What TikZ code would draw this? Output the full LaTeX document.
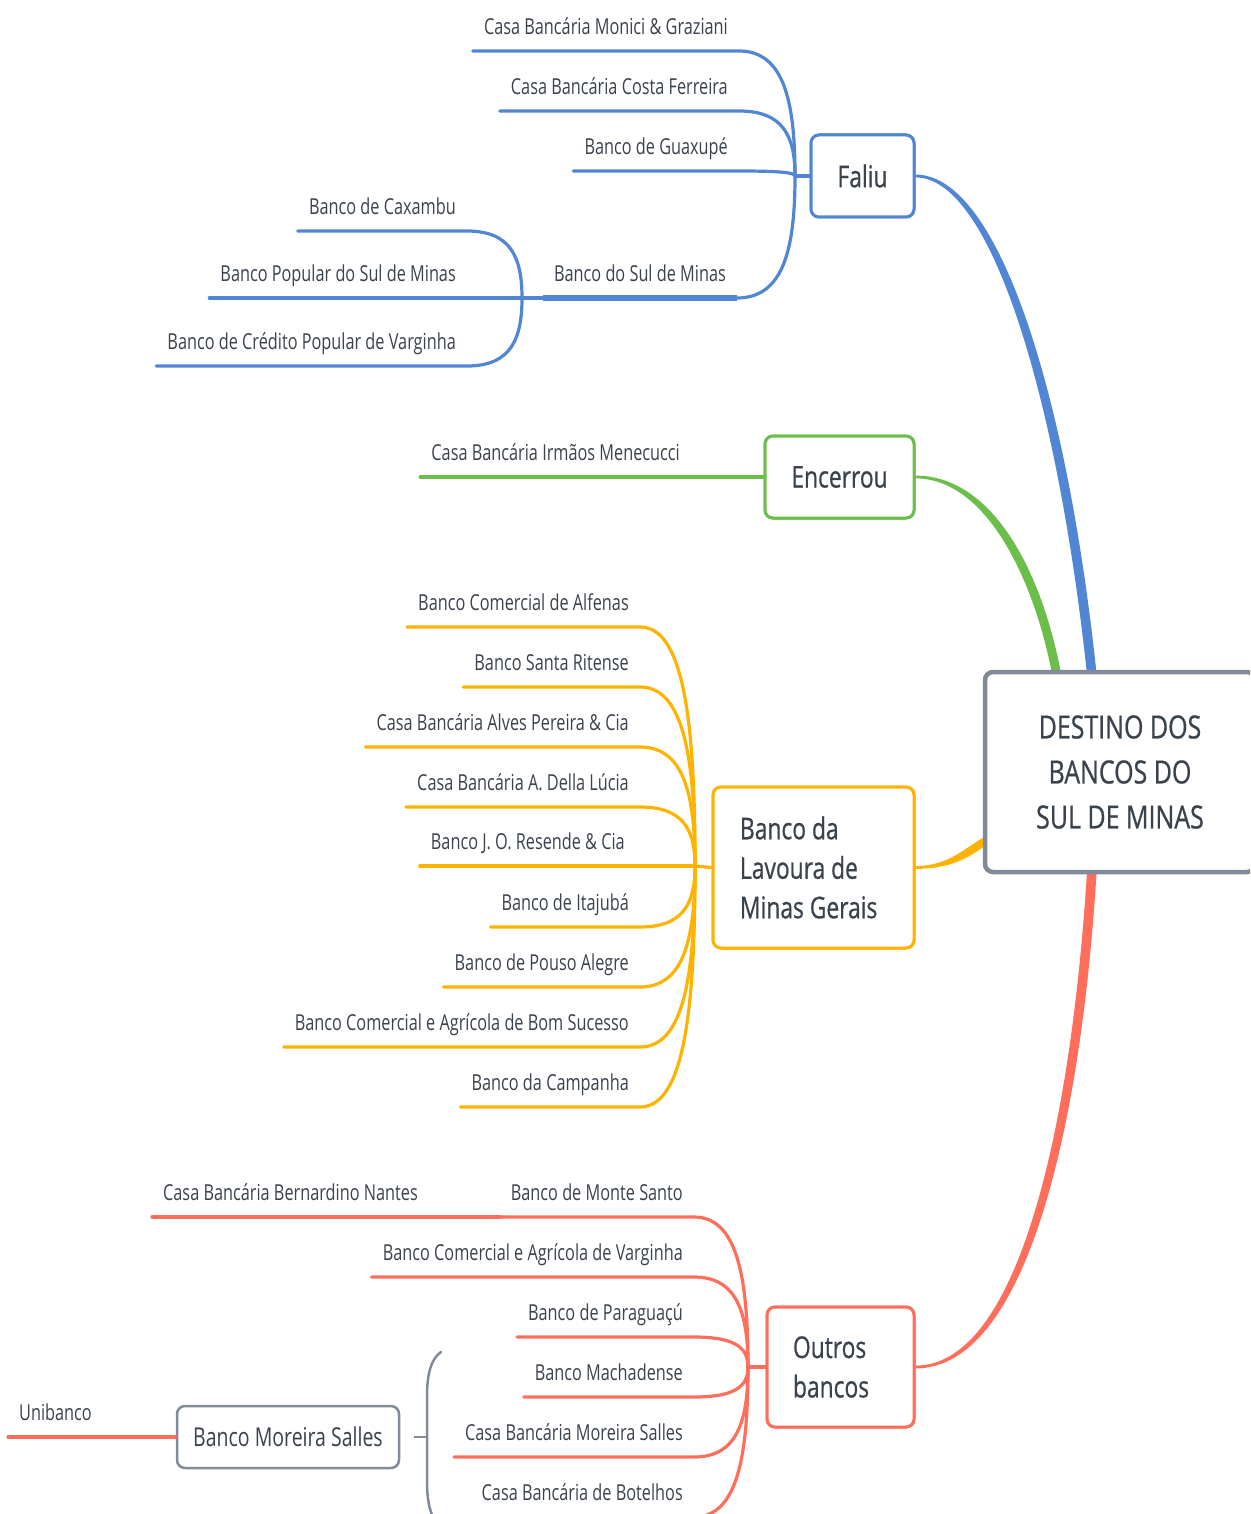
\documentclass[tikz,border=0pt]{standalone}
\usepackage{fontspec}
\setmainfont{Open Sans}[FakeStretch=0.74]
\newfontfamily\bigf{Open Sans}[FakeStretch=0.76, FakeBold=0.6]
\newfontfamily\rootf{Open Sans}[FakeStretch=0.78, FakeBold=0.6]
\newfontfamily\msf{Open Sans}[FakeStretch=0.75]
\usetikzlibrary{calc}
\definecolor{cBlue}{RGB}{80,134,212}
\definecolor{cGreen}{RGB}{108,190,75}
\definecolor{cOrange}{RGB}{255,178,0}
\definecolor{cRed}{RGB}{255,110,90}
\definecolor{cGray}{RGB}{128,138,153}
\definecolor{txt}{RGB}{58,66,76}
\tikzset{
  lbl/.style={font=\fontsize{22}{26}\selectfont, text=txt, inner xsep=11pt, inner ysep=10pt,
    text height=17pt, text depth=6pt, anchor=south east},
  box/.style={draw=#1, line width=3pt, rounded corners=8pt, fill=white, text=txt,
    font=\bigf\fontsize{30}{39.5}\selectfont, inner sep=0pt, align=left},
  lavbox/.style={box=cOrange, inner xsep=27pt, text width=147pt, minimum height=161pt, align=flush left},
  outbox/.style={box=cRed, inner xsep=26pt, text width=95pt, minimum height=120pt, align=flush left},
  branch/.style={to path={.. controls ($(\tikztostart)!0.8!(\tikztostart -| \tikztotarget)$)
    and ($(\tikztotarget)!0.6!(\tikztotarget |- \tikztostart)$) .. (\tikztotarget)}},
  ln/.style={line width=3.2pt, draw=#1, line cap=round},
}
\begin{document}
\begin{tikzpicture}[x=1pt,y=-1pt]
\useasboundingbox (0,0) rectangle (1250,1514);
\clip (0,0) rectangle (1250,1514);
% junctions
\coordinate (j1) at (795,176);
\coordinate (j2) at (522,298);
\coordinate (j3) at (695,866);
\coordinate (j4) at (748,1367);
\coordinate (cb) at (1092,676);
\coordinate (cg) at (1057,676);
\coordinate (co) at (990,838);
\coordinate (cr) at (1092,868);

% topic boxes (positions)
\node[box=cBlue, minimum width=103pt, minimum height=82pt] (faliu) at (862.5,176) {Faliu};
\node[box=cGreen, minimum width=149pt, minimum height=82pt] (enc) at (839.5,477) {Encerrou};
\node[lavbox] (lav) at (813.5,867.5) {Banco da\\Lavoura de\\Minas Gerais};
\node[outbox] (out) at (840.5,1367) {Outros\\bancos};

% main tapered branches
\fill[cBlue] ([yshift=1.4pt]faliu.east) .. controls (1000,174.6) and (1068,400) .. ([xshift=4.8pt]cb)
  -- ([xshift=-4.8pt]cb) .. controls (1058,402) and (992,177.4) .. ([yshift=-1.4pt]faliu.east) -- cycle;
\fill[cGreen] ([yshift=1.4pt]enc.east) .. controls (992,475.6) and (1042,570) .. ([xshift=4.5pt]cg)
  -- ([xshift=-4.5pt]cg) .. controls (1033,574) and (984,478.4) .. ([yshift=-1.4pt]enc.east) -- cycle;
\fill[cOrange] ([yshift=1.4pt]lav.east) .. controls (950,865.6) and (964,848) .. ([yshift=4.5pt]co)
  -- ([yshift=-4.5pt]co) .. controls (968,858) and (952,868.6) .. ([yshift=-1.4pt]lav.east) -- cycle;
\fill[cRed] ([yshift=1.4pt]out.east) .. controls (1020,1365.6) and (1072,1120) .. ([xshift=-4.8pt]cr)
  -- ([xshift=4.8pt]cr) .. controls (1082,1120) and (1028,1368.4) .. ([yshift=-1.4pt]out.east) -- cycle;

% central node
\node[box=cGray, line width=4.5pt, minimum width=270pt, minimum height=200pt, align=center,
  font=\rootf\fontsize{32}{45}\selectfont] (root) at (1120,772) {DESTINO DOS\\BANCOS DO\\SUL DE MINAS};
% redraw boxes on top of branch ends
\node[box=cBlue, minimum width=103pt, minimum height=82pt] at (faliu) {Faliu};
\node[box=cGreen, minimum width=149pt, minimum height=82pt] at (enc) {Encerrou};
\node[lavbox] at (lav) {Banco da\\Lavoura de\\Minas Gerais};
\node[outbox] at (out) {Outros\\bancos};

% ---------- Faliu ----------
\node[lbl] (m1) at (739,51) {Casa Bancária Monici \& Graziani};
\node[lbl] (m2) at (739,111) {Casa Bancária Costa Ferreira};
\node[lbl] (m3) at (739,171) {Banco de Guaxupé};
\node[lbl] (m4) at (737,298) {Banco do Sul de Minas};
\draw[ln=cBlue] (faliu.west) -- (j1);
\foreach \n in {m1,m2,m3}{
  \draw[ln=cBlue] (\n.south west) -- (\n.south east) to[branch] (j1);
}
\draw[cBlue, line width=5.5pt] (m4.south west) -- (m4.south east);
\draw[ln=cBlue] (m4.south east) to[branch] (j1);

\node[lbl] (s1) at (467,231) {Banco de Caxambu};
\node[lbl] (s2) at (467,298) {Banco Popular do Sul de Minas};
\node[lbl] (s3) at (467,366) {Banco de Crédito Popular de Varginha};
\draw[ln=cBlue] (m4.south west) -- (j2);
\draw[ln=cBlue] (s1.south west) -- (s1.south east) to[branch] (j2);
\draw[ln=cBlue] (s2.south west) -- (j2);
\draw[ln=cBlue] (s3.south west) -- (s3.south east) to[branch] (j2);

% ---------- Encerrou ----------
\node[lbl] (e1) at (691,477) {Casa Bancária Irmãos Menecucci};
\draw[ln=cGreen] (e1.south west) -- (enc.west);

% ---------- Lavoura ----------
\node[lbl] (l1) at (640,627) {Banco Comercial de Alfenas};
\node[lbl] (l2) at (640,687) {Banco Santa Ritense};
\node[lbl] (l3) at (640,747) {Casa Bancária Alves Pereira \& Cia};
\node[lbl] (l4) at (640,807) {Casa Bancária A. Della Lúcia};
\node[lbl] (l5) at (636,866) {Banco J. O. Resende \& Cia};
\node[lbl] (l6) at (640,927) {Banco de Itajubá};
\node[lbl] (l7) at (640,987) {Banco de Pouso Alegre};
\node[lbl] (l8) at (640,1047) {Banco Comercial e Agrícola de Bom Sucesso};
\node[lbl] (l9) at (640,1107) {Banco da Campanha};
\draw[ln=cOrange] (lav.west) -- (j3);
\foreach \n in {l1,l2,l3,l4,l6,l7,l8,l9}{
  \draw[ln=cOrange] (\n.south west) -- (\n.south east) to[branch] (j3);
}
\draw[ln=cOrange] (l5.south west) -- (j3);

% ---------- Outros bancos ----------
\node[lbl] (o1) at (694,1217) {Banco de Monte Santo};
\node[lbl] (o2) at (694,1277) {Banco Comercial e Agrícola de Varginha};
\node[lbl] (o3) at (694,1337) {Banco de Paraguaçú};
\node[lbl] (o4) at (694,1397) {Banco Machadense};
\node[lbl] (o5) at (694,1457) {Casa Bancária Moreira Salles};
\node[lbl] (o6) at (694,1517) {Casa Bancária de Botelhos};
\draw[ln=cRed] (out.west) -- (j4);
\foreach \n in {o1,o2,o3,o4,o5,o6}{
  \draw[ln=cRed] (\n.south west) -- (\n.south east) to[branch] (j4);
}
\node[lbl] (b1) at (429,1217) {Casa Bancária Bernardino Nantes};
\draw[ln=cRed] (b1.south west) -- (o1.south west);

% summary bracket and Banco Moreira Salles
\coordinate (brtop) at (441,1352);
\coordinate (brmid) at (427,1437);
\coordinate (brtip) at (414,1437);
\coordinate (brbot) at (437,1524);
\draw[cGray, line width=2.5pt, line cap=round] (brtop) .. controls (432,1358) and (427,1372) .. (427,1396)
  -- (427,1480) .. controls (427,1502) and (430,1514) .. (brbot);
\draw[cGray, line width=2.5pt] (brtip) -- (brmid);
\node[box=cGray, line width=2.5pt, minimum width=222pt, minimum height=62pt,
  font=\msf\fontsize{26}{30}\selectfont] (ms) at (288,1437) {Banco Moreira Salles};
\node[lbl] (u1) at (103,1437) {Unibanco};
\draw[ln=cRed] (u1.south west) -- (ms.west);
\end{tikzpicture}
\end{document}
